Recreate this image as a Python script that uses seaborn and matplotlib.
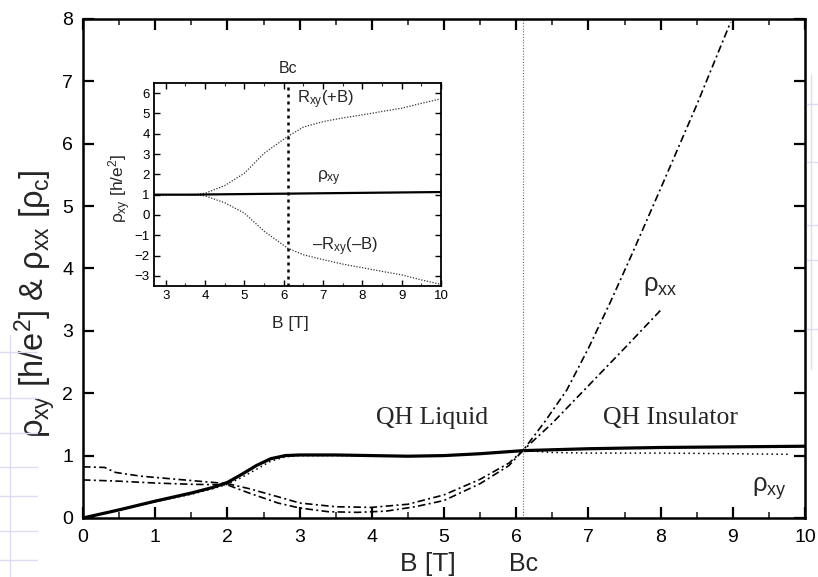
import matplotlib
matplotlib.use("Agg")
import matplotlib.pyplot as plt
import matplotlib.transforms as mtransforms
from matplotlib.lines import Line2D
from matplotlib.ticker import MultipleLocator
import seaborn as sns

# ---- main panel data: magnetic field B [T] and resistivities ----
b_rho_xy = [0.0, 0.5, 1.0, 1.5, 1.8, 2.0, 2.2, 2.4, 2.6, 2.8, 3.0, 3.5, 4.0,
            4.5, 5.0, 5.5, 6.1, 7.0, 8.0, 9.0, 10.0]
rho_xy = [0.0, 0.13, 0.27, 0.40, 0.49, 0.57, 0.70, 0.84, 0.95, 1.0, 1.01, 1.01,
          1.0, 0.99, 1.0, 1.03, 1.08, 1.11, 1.13, 1.14, 1.15]

b_rho_xy2 = [0.0, 0.5, 1.0, 1.5, 1.8, 2.0, 2.2, 2.4, 2.6, 2.8, 3.0, 3.5, 4.0,
             4.5, 5.0, 5.5, 6.1, 6.5, 7.0, 8.0, 9.0, 9.8]
rho_xy2 = [0.0, 0.13, 0.26, 0.38, 0.47, 0.54, 0.65, 0.78, 0.91, 0.98, 1.0, 1.0,
           1.0, 0.99, 1.0, 1.03, 1.08, 1.05, 1.04, 1.04, 1.03, 1.02]

b_rho_xx1 = [0.0, 0.3, 0.45, 0.8, 1.2, 1.6, 2.0, 2.3, 2.7, 3.0, 3.5, 4.0, 4.5,
             5.0, 5.5, 5.9, 6.1, 6.5, 7.0, 7.5, 8.0]
rho_xx1 = [0.82, 0.81, 0.73, 0.67, 0.63, 0.59, 0.55, 0.47, 0.34, 0.24, 0.18,
           0.17, 0.22, 0.37, 0.62, 0.88, 1.09, 1.52, 2.12, 2.72, 3.33]

b_rho_xx2 = [0.0, 0.5, 1.0, 1.5, 2.0, 2.3, 2.7, 3.0, 3.4, 3.8, 4.2, 4.6, 5.0,
             5.5, 5.9, 6.1, 6.4, 6.7, 7.0, 7.3, 7.6, 8.0, 8.5, 8.97]
rho_xx2 = [0.61, 0.59, 0.56, 0.54, 0.53, 0.40, 0.24, 0.16, 0.10, 0.09, 0.11,
           0.18, 0.28, 0.55, 0.84, 1.09, 1.55, 2.05, 2.72, 3.45, 4.22, 5.28,
           6.62, 7.95]

b_critical = 6.1

# ---- inset data ----
inset_b = [2.7, 3.0, 3.5, 3.8, 4.0, 4.5, 5.0, 5.5, 6.1, 6.5, 7.0, 7.5, 8.0,
           8.5, 9.0, 9.5, 10.0]
inset_rxy_pos = [1.0, 1.0, 1.0, 1.02, 1.07, 1.45, 2.06, 3.04, 3.87, 4.33,
                 4.6, 4.78, 4.93, 5.1, 5.26, 5.5, 5.72]
inset_rxy_neg = [1.0, 1.0, 1.0, 0.98, 0.94, 0.6, 0.09, -0.8, -1.64, -1.96,
                 -2.2, -2.42, -2.6, -2.78, -2.95, -3.2, -3.42]
inset_rho_xy = [1.0, 1.0, 1.0, 1.0, 1.01, 1.02, 1.03, 1.04, 1.05, 1.06, 1.07,
                1.08, 1.09, 1.1, 1.11, 1.12, 1.13]

main_xticks = list(range(0, 11))
main_yticks = list(range(0, 9))
inset_xticks = list(range(3, 11))
inset_yticks = list(range(-3, 7))

sns.set_theme(style="ticks")
plt.rcParams["font.family"] = ["Liberation Sans", "DejaVu Sans"]
plt.rcParams["mathtext.fontset"] = "custom"
plt.rcParams["mathtext.rm"] = "Liberation Sans"
plt.rcParams["mathtext.it"] = "Liberation Sans"
plt.rcParams["mathtext.bf"] = "Liberation Sans:bold"

fig = plt.figure(figsize=(8.18, 5.77), dpi=100)
fig.patch.set_facecolor("white")

# faint slide-ruling strokes along the page margins
pale = "#dcdcf2"
fig.add_artist(Line2D([0.992, 0.992], [0.36, 0.87], color=pale, lw=1.0,
                      transform=fig.transFigure))
for yy in [0.82, 0.72, 0.61, 0.55, 0.43]:
    fig.add_artist(Line2D([0.987, 1.0], [yy, yy], color=pale, lw=1.0,
                          transform=fig.transFigure))
fig.add_artist(Line2D([0.012, 0.012], [0.0, 0.42], color=pale, lw=1.0,
                      transform=fig.transFigure))
for yy in [0.39, 0.31, 0.25, 0.19, 0.14, 0.08, 0.03]:
    fig.add_artist(Line2D([0.0, 0.045], [yy, yy], color=pale, lw=1.0,
                          transform=fig.transFigure))

ax = fig.add_axes([0.1015, 0.1023, 0.8826, 0.8649])

dashdot = (0, (4.5, 2.0, 1.2, 2.0))

sns.lineplot(x=b_rho_xy2, y=rho_xy2, ax=ax, color="black", lw=1.1,
             linestyle=(0, (1.0, 2.2)), sort=False, estimator=None)
sns.lineplot(x=b_rho_xx1, y=rho_xx1, ax=ax, color="black", lw=1.2,
             linestyle=dashdot, sort=False, estimator=None)
sns.lineplot(x=b_rho_xx2, y=rho_xx2, ax=ax, color="black", lw=1.2,
             linestyle=dashdot, sort=False, estimator=None)
sns.lineplot(x=b_rho_xy, y=rho_xy, ax=ax, color="black", lw=2.3,
             sort=False, estimator=None)
ax.axvline(b_critical, color="#666666", lw=0.8, linestyle=(0, (1, 1.5)))

ax.set_xlim(0, 10)
ax.set_ylim(0, 8)
ax.set_xticks(main_xticks)
ax.set_yticks(main_yticks)
ax.xaxis.set_minor_locator(MultipleLocator(0.5))
ax.tick_params(axis="both", which="major", direction="in", length=8, width=1.6,
               labelsize=14, top=True, right=True, colors="black")
ax.tick_params(axis="x", which="major", pad=8)
ax.tick_params(axis="y", which="major", pad=7)
ax.tick_params(axis="x", which="minor", direction="in", length=4, width=1.2,
               top=True, bottom=True)
for side in ["left", "right", "top", "bottom"]:
    ax.spines[side].set_visible(True)
    ax.spines[side].set_linewidth(1.8)
    ax.spines[side].set_color("black")

ax.set_xlabel("B [T]", fontsize=19)
ax.xaxis.set_label_coords(0.478, -0.068)
ax.set_ylabel(r"$\rho_{xy}$ [h/e$^2$] & $\rho_{xx}$ [$\rho_c$]", fontsize=23.5)
ax.yaxis.set_label_coords(-0.034, 0.43)

trans = mtransforms.blended_transform_factory(ax.transData, ax.transAxes)
ax.text(b_critical, -0.068, "Bc", transform=trans, fontsize=18,
        ha="center", va="top")

ax.text(4.84, 1.6, "QH Liquid", family=["Liberation Serif", "DejaVu Serif"],
        fontsize=18.5, ha="center", va="center")
ax.text(8.14, 1.6, "QH Insulator", family=["Liberation Serif", "DejaVu Serif"],
        fontsize=18.5, ha="center", va="center")
ax.text(8.0, 3.72, r"$\rho_{xx}$", fontsize=18.5, ha="center", va="center")
ax.text(9.51, 0.47, r"$\rho_{xy}$", fontsize=18.5, ha="center", va="center")

# ---- inset ----
ins = fig.add_axes([0.1883, 0.5043, 0.3509, 0.3518])
sns.lineplot(x=inset_b, y=inset_rxy_pos, ax=ins, color="#333333", lw=0.9,
             linestyle=(0, (1, 1.3)), sort=False, estimator=None)
sns.lineplot(x=inset_b, y=inset_rxy_neg, ax=ins, color="#333333", lw=0.9,
             linestyle=(0, (1, 1.3)), sort=False, estimator=None)
sns.lineplot(x=inset_b, y=inset_rho_xy, ax=ins, color="black", lw=1.6,
             sort=False, estimator=None)
ins.axvline(b_critical, color="black", lw=1.8, linestyle=(0, (1.2, 1.6)))
ins.set_xlim(2.7, 10)
ins.set_ylim(-3.5, 6.5)
ins.set_xticks(inset_xticks)
ins.set_yticks(inset_yticks)
ins.xaxis.set_minor_locator(MultipleLocator(0.5))
ins.tick_params(axis="both", which="major", direction="in", length=4, width=1.0,
                labelsize=9.5, top=True, right=True, colors="black", pad=3)
ins.tick_params(axis="x", which="minor", direction="in", length=2, width=0.8,
                top=True, bottom=True)
for side in ["left", "right", "top", "bottom"]:
    ins.spines[side].set_visible(True)
    ins.spines[side].set_linewidth(1.3)
    ins.spines[side].set_color("black")
ins.set_xlabel("B [T]", fontsize=12.5)
ins.xaxis.set_label_coords(0.474, -0.15)
ins.set_ylabel(r"$\rho_{xy}$ [h/e$^2$]", fontsize=12.5)
ins.yaxis.set_label_coords(-0.075, 0.48)

itrans = mtransforms.blended_transform_factory(ins.transData, ins.transAxes)
ins.text(b_critical, 1.07, "Bc", transform=itrans, fontsize=11.5,
         ha="center", va="center")
ins.text(6.34, 5.66, r"R$_{xy}$(+B)", fontsize=12, ha="left", va="center")
ins.text(7.15, 1.82, r"$\rho_{xy}$", fontsize=12.5, ha="center", va="center")
ins.text(6.72, -1.58, r"–R$_{xy}$(–B)", fontsize=12, ha="left", va="center")

fig.savefig("out.png", dpi=100, facecolor="white")
